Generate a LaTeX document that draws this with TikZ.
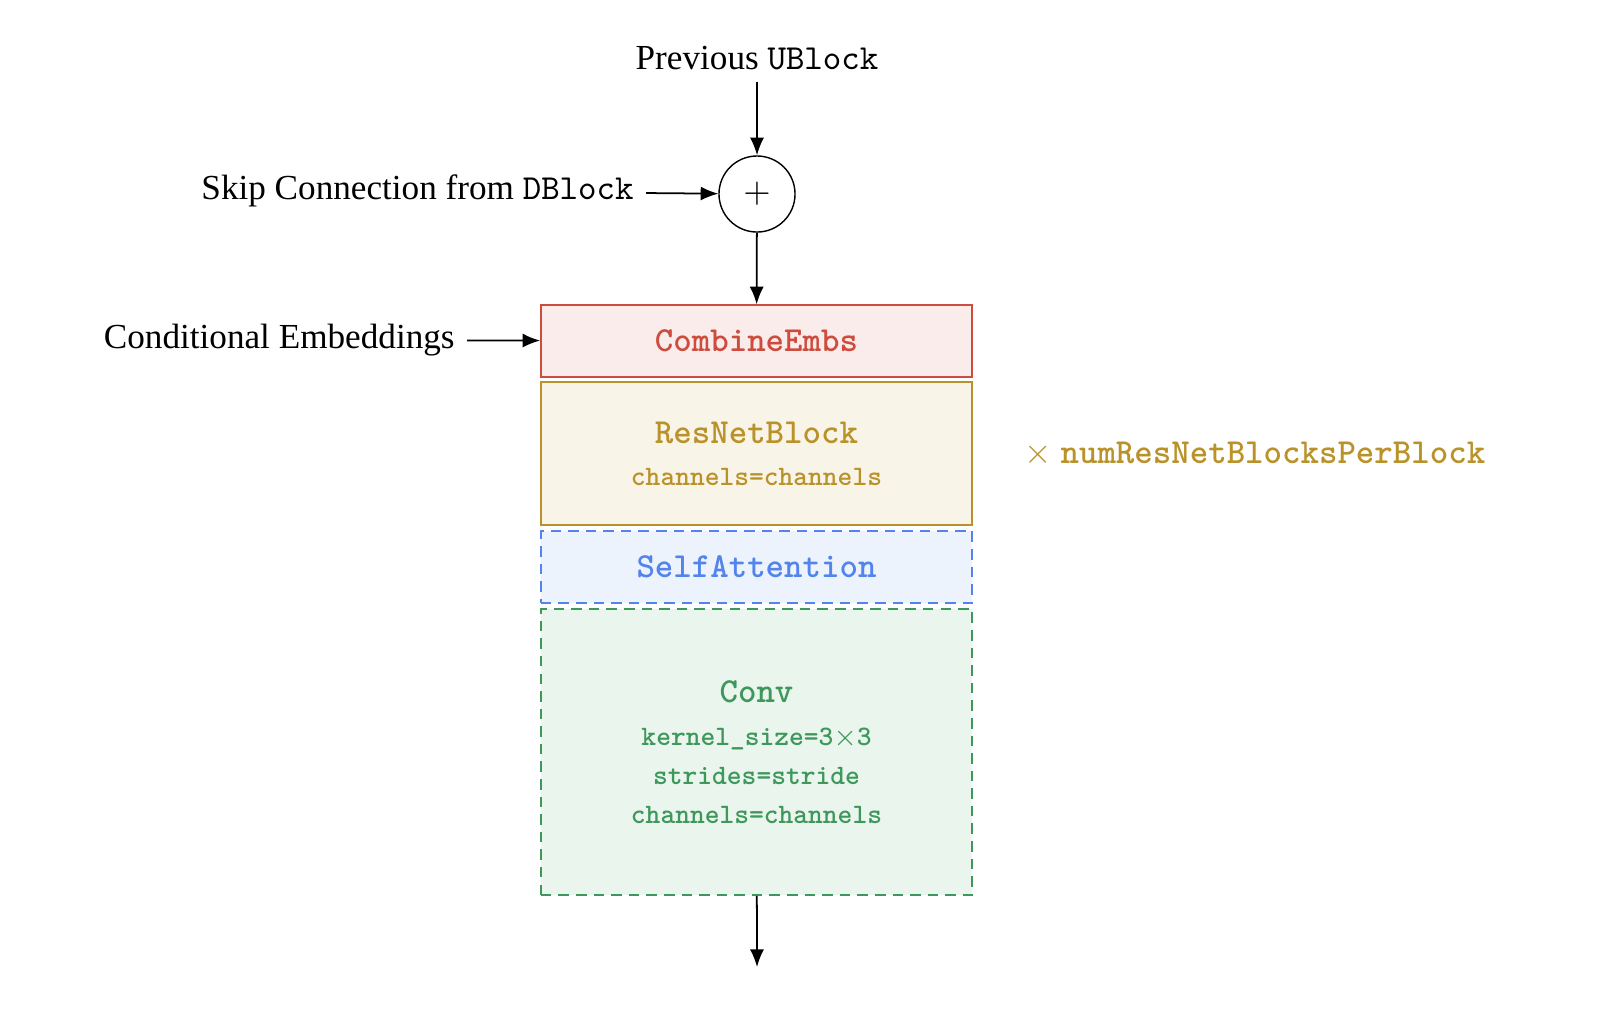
\documentclass[tikz,border=0pt]{standalone}
\usepackage{fontspec}
\setmainfont{Liberation Serif}
\usetikzlibrary{arrows.meta,positioning}
\definecolor{embred}{RGB}{206,76,62}
\definecolor{embfill}{RGB}{249,236,234}
\definecolor{resgold}{RGB}{186,146,42}
\definecolor{resfill}{RGB}{249,244,232}
\definecolor{attblue}{RGB}{82,132,236}
\definecolor{attfill}{RGB}{236,243,253}
\definecolor{convgreen}{RGB}{62,152,92}
\definecolor{convfill}{RGB}{234,245,237}
\tikzset{
  block/.style={draw, minimum width=4.31cm, align=center, font=\ttfamily\bfseries},
  embsbox/.style={block, draw=embred, fill=embfill, text=embred, minimum height=0.72cm},
  resbox/.style={block, draw=resgold, fill=resfill, text=resgold, minimum height=1.43cm},
  attbox/.style={block, draw=attblue, fill=attfill, text=attblue, minimum height=0.72cm,
    dash pattern=on 3pt off 2pt},
  convbox/.style={block, draw=convgreen, fill=convfill, text=convgreen, minimum height=2.86cm,
    dash pattern=on 3pt off 2pt},
  flow/.style={line width=0.5pt, -{Latex[length=5pt,width=4pt]}}
}
\begin{document}
\begin{tikzpicture}[x=0.01cm,y=-0.01cm]
  \useasboundingbox (0,0) rectangle (1604,1020);
  % inputs
  \node (prev) at (757,58) {Previous \texttt{UBlock}};
  \node[circle, draw, minimum size=0.76cm, inner sep=0pt] (plus) at (757,194) {$+$};
  \node[anchor=east] (skip) at (646,191) {Skip Connection from \texttt{DBlock}};
  \node[anchor=east] (cond) at (467,340) {Conditional Embeddings};
  % blocks
  \node[embsbox] (combine) at (756.5,341) {CombineEmbs};
  \node[resbox] (resnet) at (756.5,453.5)
    {ResNetBlock\\[0pt]{\footnotesize channels=channels}};
  \node[anchor=west, text=resgold] (repeat) at (1012,454)
    {$\times$ \texttt{\bfseries numResNetBlocksPerBlock}};
  \node[attbox] (attn) at (756.5,567) {SelfAttention};
  \node[convbox] (conv) at (756.5,752)
    {Conv\\[0.2pt]{\footnotesize kernel\_size=3$\times$3}\\[-0.8pt]
     {\footnotesize strides=stride}\\[-0.9pt]{\footnotesize channels=channels}};
  \coordinate (out) at (757,967);
  % connectors
  \begin{scope}[flow]
    \draw (prev) to (plus);
    \draw (skip) to (plus);
    \draw (plus) to (combine);
    \draw (cond) to (combine);
    \draw (conv) to (out);
  \end{scope}
\end{tikzpicture}
\end{document}
